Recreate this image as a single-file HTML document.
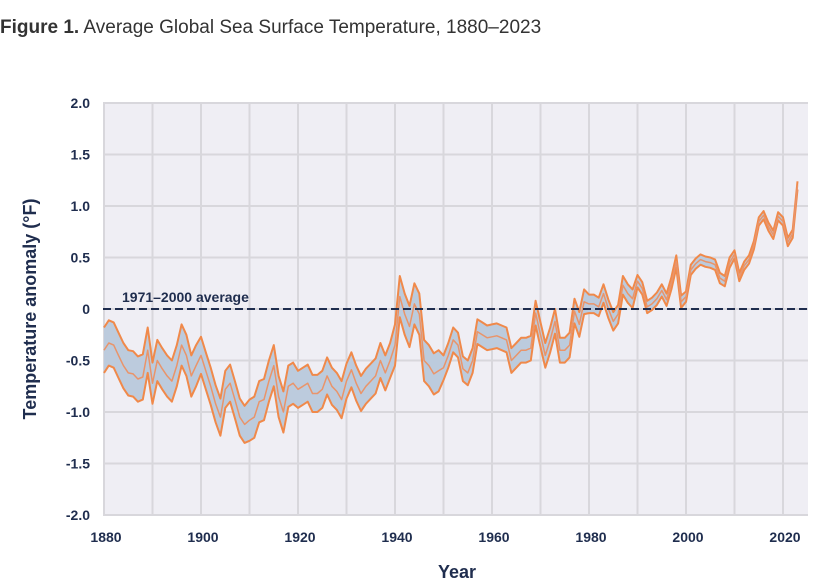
<!DOCTYPE html>
<html><head><meta charset="utf-8"><style>
html,body{margin:0;padding:0;background:#fff;}
svg{display:block;font-family:"Liberation Sans",sans-serif;}
</style></head><body>
<svg id="chart" width="835" height="583" viewBox="0 0 835 583">
<text x="0" y="33" font-size="19" fill="#333"><tspan font-weight="bold">Figure 1.</tspan> Average Global Sea Surface Temperature, 1880–2023</text>
<rect x="103" y="103" width="705" height="412" fill="#efeef4"/>
<g id="grid"></g>
<g id="band"></g>
<g id="axes"></g>
<text x="36" y="309" transform="rotate(-90 36 309)" text-anchor="middle" font-size="18" font-weight="bold" fill="#1f2d4e">Temperature anomaly (°F)</text>
<text x="457" y="578" text-anchor="middle" font-size="18" font-weight="bold" fill="#1f2d4e">Year</text>
</svg>
<script>
const years = [];
for (let y = 1880; y <= 2023; y++) years.push(y);
const midValues = [
-0.40,-0.33,-0.35,-0.45,-0.55,-0.62,-0.63,-0.68,-0.66,-0.40,
-0.72,-0.50,-0.58,-0.65,-0.70,-0.55,-0.35,-0.45,-0.65,-0.55,
-0.45,-0.60,-0.75,-0.92,-1.05,-0.78,-0.72,-0.88,-1.05,-1.12,
-1.08,-1.05,-0.90,-0.88,-0.70,-0.55,-0.85,-1.00,-0.75,-0.72,
-0.78,-0.75,-0.72,-0.82,-0.82,-0.78,-0.65,-0.75,-0.80,-0.88,
-0.70,-0.59,-0.72,-0.82,-0.75,-0.70,-0.65,-0.50,-0.62,-0.50,
-0.35,0.12,-0.05,-0.17,0.05,-0.05,-0.50,-0.55,-0.63,-0.60,
-0.57,-0.45,-0.30,-0.35,-0.58,-0.62,-0.50,-0.22,-0.25,-0.28,
-0.27,-0.26,-0.28,-0.30,-0.50,-0.45,-0.40,-0.40,-0.38,-0.04,
-0.25,-0.45,-0.30,-0.12,-0.40,-0.40,-0.35,-0.02,-0.15,0.07,
0.05,0.05,0.02,0.15,0.00,-0.12,-0.05,0.23,0.15,0.10,
0.27,0.20,0.02,0.05,0.10,0.18,0.09,0.25,0.46,0.07,
0.12,0.38,0.44,0.48,0.46,0.45,0.43,0.30,0.27,0.45,
0.53,0.31,0.42,0.48,0.62,0.85,0.91,0.80,0.72,0.90,
0.85,0.65,0.73,1.20];
const decadeHalfWidth = [0.22,0.20,0.18,0.20,0.18,0.17,0.20,0.12,0.12,0.12,0.09,0.06,0.05,0.04,0.04];
const yTicks = [2.0,1.5,1.0,0.5,0,-0.5,-1.0,-1.5,-2.0];
const yTickLabels = ["2.0","1.5","1.0","0.5","0","-0.5","-1.0","-1.5","-2.0"];
const xTicks = [1880,1900,1920,1940,1960,1980,2000,2020];
const xGrid = [1880,1890,1900,1910,1920,1930,1940,1950,1960,1970,1980,1990,2000,2010,2020];
const avgLabel = "1971–2000 average";

const NS = "http://www.w3.org/2000/svg";
const X0 = 104, PXY = 4.85;
function xs(yr){ return X0 + (yr - 1880) * PXY; }
function ys(v){ return 309 - v * 103; }
function mk(tag, attrs, parent){
  const e = document.createElementNS(NS, tag);
  for (const k in attrs) e.setAttribute(k, attrs[k]);
  parent.appendChild(e); return e;
}
const grid = document.getElementById('grid');
xGrid.forEach(g => {
  const l = mk('line', {x1: xs(g), x2: xs(g), y1: 103, y2: 515, stroke: '#d8d7dc', 'stroke-width': 2}, grid);
  
  
});
yTicks.forEach(t => {
  const l = mk('line', {x1: 103, x2: 808, y1: ys(t), y2: ys(t), stroke: '#d8d7dc', 'stroke-width': 2}, grid);
  
  
});
const axes = document.getElementById('axes');
yTicks.forEach((t, i) => {
  const tx = mk('text', {x: 90, y: ys(t) + 5, 'text-anchor': 'end', 'font-size': 14, 'font-weight': 'bold', fill: '#1f2d4e'}, axes);
  tx.textContent = yTickLabels[i];
  
  
});
xTicks.forEach(t => {
  const tx = mk('text', {x: xs(t) + 2, y: 542, 'text-anchor': 'middle', 'font-size': 14, 'font-weight': 'bold', fill: '#1f2d4e'}, axes);
  tx.textContent = String(t);
  
  
});
const band = document.getElementById('band');
const upper = midValues.map((v, i) => v + decadeHalfWidth[Math.floor(i / 10)]);
const lower = midValues.map((v, i) => v - decadeHalfWidth[Math.floor(i / 10)]);
const upPts = years.map((y, i) => xs(y).toFixed(1) + ',' + ys(upper[i]).toFixed(1));
const loPts = years.map((y, i) => xs(y).toFixed(1) + ',' + ys(lower[i]).toFixed(1));
const midPts = years.map((y, i) => xs(y).toFixed(1) + ',' + ys(midValues[i]).toFixed(1));
const poly = mk('polygon', {points: upPts.concat(loPts.slice().reverse()).join(' '), fill: '#bccbdd'}, band);


const upL = mk('polyline', {points: upPts.join(' '), fill: 'none', stroke: '#f0894a', 'stroke-width': 2, 'stroke-linejoin': 'round'}, band);


const loL = mk('polyline', {points: loPts.join(' '), fill: 'none', stroke: '#f0894a', 'stroke-width': 2, 'stroke-linejoin': 'round'}, band);


const mL = mk('polyline', {points: midPts.join(' '), fill: 'none', stroke: '#e9946a', 'stroke-width': 1.5, 'stroke-linejoin': 'round'}, band);


const avg = mk('line', {x1: 103, x2: 808, y1: ys(0), y2: ys(0), stroke: '#1f2d4e', 'stroke-width': 2, 'stroke-dasharray': '8,4'}, band);


const avgT = mk('text', {x: 122, y: ys(0) - 7, 'font-size': 14, 'font-weight': 'bold', fill: '#1f2d4e'}, band);
avgT.textContent = avgLabel;


</script>
</body></html>
